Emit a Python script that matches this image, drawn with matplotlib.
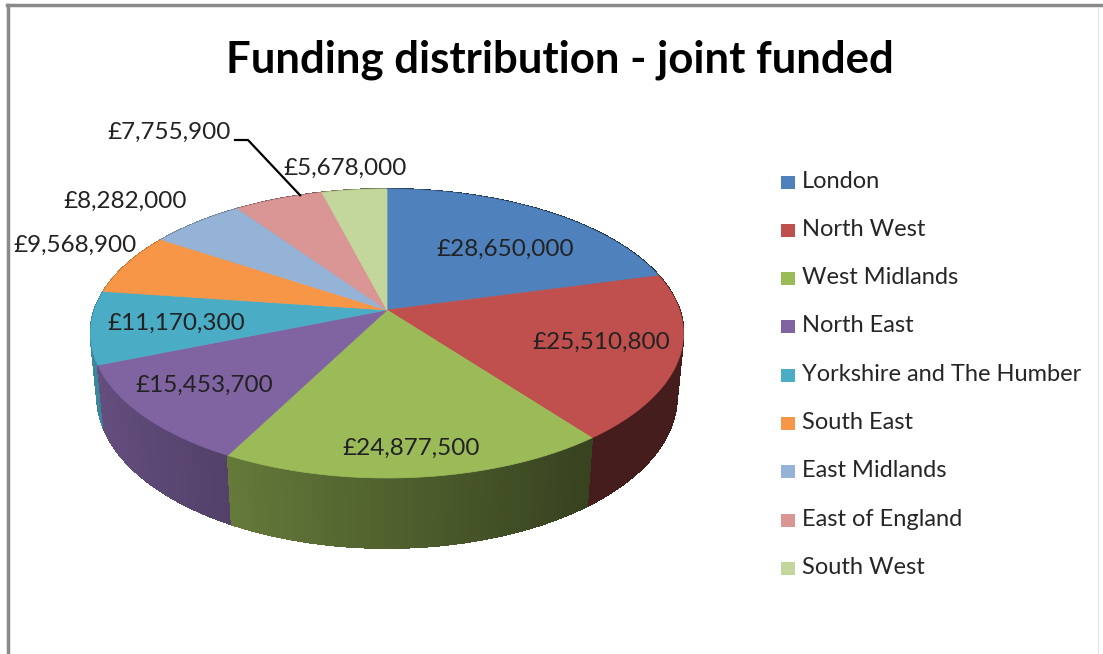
import numpy as np
import matplotlib
matplotlib.use('Agg')
import matplotlib.pyplot as plt
from matplotlib.patches import Polygon, Rectangle

regions = ['London', 'North West', 'West Midlands', 'North East',
           'Yorkshire and The Humber', 'South East', 'East Midlands',
           'East of England', 'South West']
funding = [28650000, 25510800, 24877500, 15453700, 11170300,
           9568900, 8282000, 7755900, 5678000]
colors = ['#4F81BD', '#C0504D', '#9BBB59', '#8064A2', '#4BACC6',
          '#F79646', '#95B3D7', '#D99694', '#C3D69B']

# where each value label sits (pixel centres)
label_pos = [(505, 249), (601, 342), (411, 448), (204, 385), (176, 323),
             (75, 245), (125, 201), (169, 132), (345, 168)]

# perspective view of the pie disc
CX, CY = 387, 310
S = 292.5
SIN_E = 0.481
COS_E = np.sqrt(1 - SIN_E ** 2)
R_D = 0.1853
H = 0.249


def project(x, y, z):
    depth = 1 + R_D * (z * COS_E - y * SIN_E)
    return CX + S * x / depth, CY - S * (z * SIN_E + y * COS_E) / depth


def shade(rgb, theta):
    f = np.clip(0.52 - 0.28 * np.sin(theta), 0.36, 0.85)
    return tuple(c * f for c in rgb)


plt.rcParams['font.family'] = ['Lato', 'DejaVu Sans']
fig = plt.figure(figsize=(11.03, 6.54), dpi=100)
ax = fig.add_axes([0, 0, 1, 1])
ax.set_xlim(0, 1103)
ax.set_ylim(654, 0)
ax.axis('off')

vals = np.array(funding, dtype=float)
edges = np.concatenate([[0], np.cumsum(vals) / vals.sum()]) * 2 * np.pi

# outer walls, far pieces first
pieces = []
for i in range(len(vals)):
    a = np.arange(edges[i], edges[i + 1], np.radians(0.5))
    a = np.append(a, edges[i + 1])
    base = matplotlib.colors.to_rgb(colors[i])
    for t0, t1 in zip(a[:-1], a[1:]):
        tm = 0.5 * (t0 + t1)
        quad = [project(np.sin(t0), 0, np.cos(t0)),
                project(np.sin(t1), 0, np.cos(t1)),
                project(np.sin(t1), -H, np.cos(t1)),
                project(np.sin(t0), -H, np.cos(t0))]
        pieces.append((np.cos(tm), quad, shade(base, tm)))
pieces.sort(key=lambda p: -p[0])
for _, quad, c in pieces:
    ax.add_patch(Polygon(quad, closed=True, facecolor=c, edgecolor=c,
                         lw=0.8, antialiased=False))

# top faces
for i in range(len(vals)):
    a = np.linspace(edges[i], edges[i + 1], 200)
    pts = [project(0, 0, 0)] + [project(np.sin(t), 0, np.cos(t)) for t in a]
    ax.add_patch(Polygon(pts, closed=True, facecolor=colors[i],
                         edgecolor=colors[i], lw=0.5))

# value labels
for v, (x, y) in zip(funding, label_pos):
    ax.text(x, y, '£{:,}'.format(v), ha='center', va='center',
            fontsize=17.5, color='#222222')

# leader line for the East of England label
t = edges[7] + 0.75 * (edges[8] - edges[7])
ex, ey = project(np.sin(t), 0, np.cos(t))
ax.plot([235, 248, ex], [140, 140, ey], color='black', lw=1.6)

ax.text(560, 72, 'Funding distribution - joint funded', ha='center',
        va='baseline', fontsize=31.5, fontweight='bold', color='black')

# legend
for i, name in enumerate(regions):
    y = 181 + i * 48.3
    ax.add_patch(Rectangle((781, y - 5.5), 14, 13, facecolor=colors[i],
                           edgecolor='none'))
    ax.text(802, y, name, ha='left', va='center', fontsize=17,
            color='#262626')

# chart frame
ax.plot([7, 1103], [5, 5], color='#8a8a8a', lw=2.5)
ax.plot([8, 8], [5, 654], color='#8a8a8a', lw=2.5)
ax.plot([1098, 1098], [8, 654], color='#e6e6e6', lw=1)

fig.savefig('out.png', dpi=100)
